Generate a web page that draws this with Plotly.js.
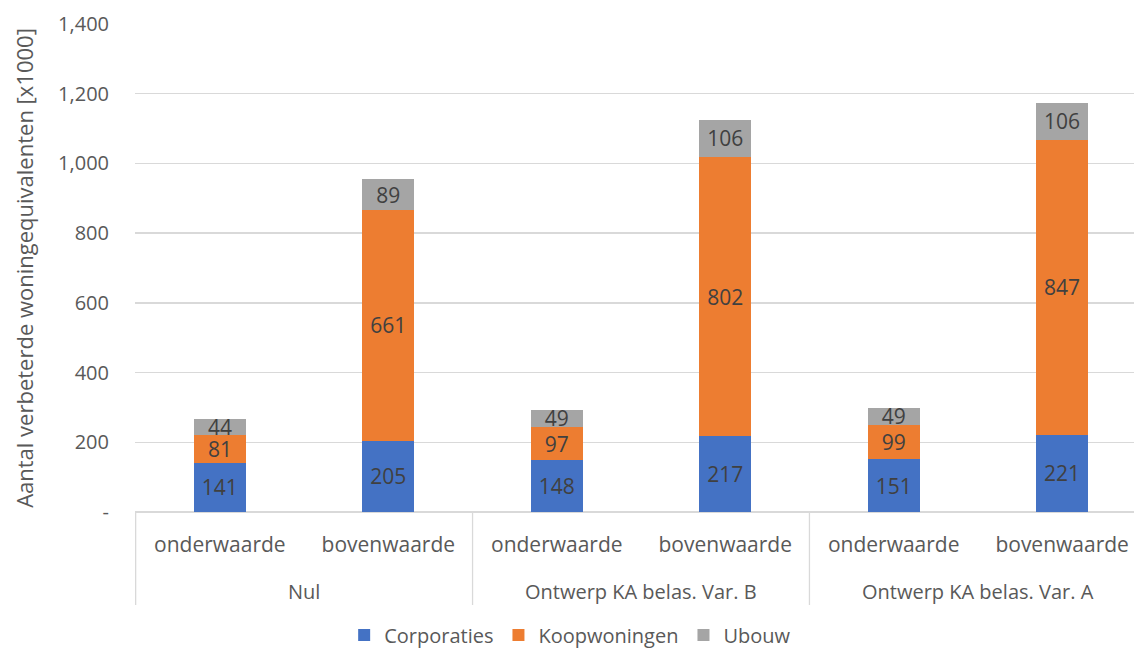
<!DOCTYPE html>
<html>
<head>
<meta charset="utf-8">
<script src="https://cdn.plot.ly/plotly-3.0.1.min.js"></script>
<style>
  html, body { margin: 0; padding: 0; overflow: hidden; background: #fff; }
  #chart { width: 1150px; height: 650px; }
</style>
</head>
<body>
<div id="chart"></div>
<script>
// Scenario groups and value levels
const groups = ["Nul", "Nul", "Ontwerp KA belas. Var. B", "Ontwerp KA belas. Var. B", "Ontwerp KA belas. Var. A", "Ontwerp KA belas. Var. A"];
const levels = ["onderwaarde", "bovenwaarde", "onderwaarde", "bovenwaarde", "onderwaarde", "bovenwaarde"];

// Improved dwelling equivalents (x1000) per segment
const corporaties = [141, 205, 148, 217, 151, 221];
const koopwoningen = [81, 661, 97, 802, 99, 847];
const ubouw = [44, 89, 49, 106, 49, 106];

const yTickVals = [0, 200, 400, 600, 800, 1000, 1200, 1400];
const yTickText = ["-", "200", "400", "600", "800", "1,000", "1,200", "1,400"];

const FONT = "'Open Sans', 'Noto Sans', sans-serif";
const TEXT_GREY = "#595959";
const LINE_GREY = "#D9D9D9";

// unique category keys (group + level), labelled with the level only
const cats = groups.map((g, i) => g + " | " + levels[i]);

function series(name, values, color) {
  return {
    type: "bar",
    name: name,
    x: cats,
    y: values,
    marker: { color: color },
    text: values.map(String),
    textposition: "inside",
    insidetextanchor: "middle",
    textangle: 0,
    textfont: { family: FONT, size: 21, color: "#404040" },
    hoverinfo: "name+y"
  };
}

const data = [
  series("Corporaties", corporaties, "#4472C4"),
  series("Koopwoningen", koopwoningen, "#ED7D31"),
  series("Ubouw", ubouw, "#A5A5A5")
];

// group spans along the category axis
const spans = [];
groups.forEach((g, i) => {
  const last = spans[spans.length - 1];
  if (last && last.name === g) last.end = i;
  else spans.push({ name: g, start: i, end: i });
});

const plotH = 650 - 24 - 138;
const dividerBottom = -93 / plotH;   // dividers run below the category labels
const groupLabelY = -79 / plotH;

const annotations = spans.map(s => ({
  xref: "x", yref: "paper",
  x: (s.start + s.end) / 2, y: groupLabelY,
  text: s.name, showarrow: false,
  xanchor: "center", yanchor: "middle",
  font: { family: FONT, size: 20, color: TEXT_GREY }
}));

const dividerLine = { color: LINE_GREY, width: 1.3 };
const shapes = spans.map(s => ({
  type: "line", xref: "x", yref: "paper",
  x0: s.start - 0.5, x1: s.start - 0.5, y0: 0, y1: dividerBottom,
  line: dividerLine
}));
shapes.push({
  type: "line", xref: "x", yref: "paper",
  x0: spans[spans.length - 1].end + 0.5, x1: spans[spans.length - 1].end + 0.5,
  y0: 0, y1: dividerBottom, line: dividerLine
});

const layout = {
  width: 1150,
  height: 650,
  margin: { l: 135, r: 3, t: 24, b: 138, autoexpand: false },
  barmode: "stack",
  bargap: 0.69,
  paper_bgcolor: "#fff",
  plot_bgcolor: "#fff",
  font: { family: FONT, color: TEXT_GREY },
  uniformtext: { mode: "show", minsize: 21 },
  showlegend: true,
  legend: {
    orientation: "h",
    x: 0.43, xanchor: "center",
    y: -0.212, yanchor: "top",
    font: { family: FONT, size: 20, color: TEXT_GREY },
    traceorder: "normal",
    itemwidth: 30
  },
  annotations: annotations,
  shapes: shapes,
  xaxis: {
    type: "category",
    tickvals: cats,
    ticktext: levels,
    tickfont: { family: FONT, size: 21, color: TEXT_GREY },
    ticklabelstandoff: 18,
    showline: false,
    ticks: "",
    showgrid: false,
    automargin: false,
    fixedrange: true
  },
  yaxis: {
    range: [0, 1400],
    tickvals: yTickVals,
    ticktext: yTickText,
    tickfont: { family: FONT, size: 20, color: TEXT_GREY },
    ticks: "",
    ticklabelstandoff: 25,
    showgrid: true,
    gridcolor: LINE_GREY,
    gridwidth: 1.3,
    zeroline: true,
    zerolinecolor: LINE_GREY,
    zerolinewidth: 1.3,
    showline: false,
    automargin: false,
    title: {
      text: "Aantal verbeterde woningequivalenten [x1000]",
      font: { family: FONT, size: 22, color: TEXT_GREY },
      standoff: 18
    },
    fixedrange: true
  }
};

Plotly.newPlot("chart", data, layout, { displayModeBar: false, staticPlot: true });
</script>
</body>
</html>
